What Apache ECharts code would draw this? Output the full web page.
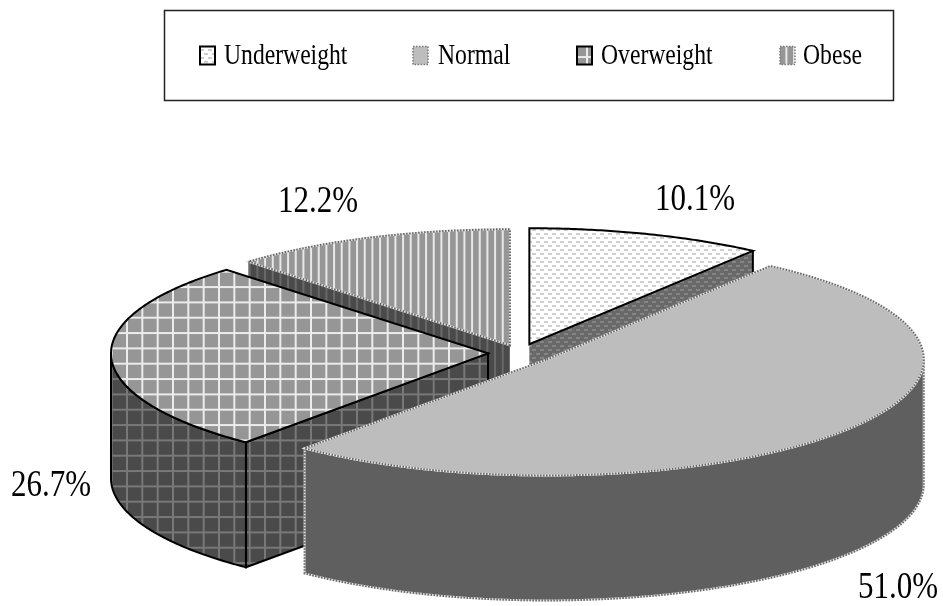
<!DOCTYPE html>
<html>
<head>
<meta charset="utf-8">
<style>html,body{margin:0;padding:0;background:#fff}#chart{width:943px;height:606px}</style>
<script src="https://cdn.jsdelivr.net/npm/echarts@6/dist/echarts.min.js"></script>
</head>
<body>
<div id="chart"></div>
<script>
// BMI category shares, in percent
const categories = ['Underweight', 'Normal', 'Overweight', 'Obese'];
const shareValues = [10.1, 51.0, 26.7, 12.2];

// Pie projection: centre, ellipse radii, extrusion depth
const PIE = { cx: 520, cy: 353, rx: 377, ry: 116, depth: 125 };
const explodeBy = [30, 34, 32, 27];
const paintOrder = [0, 3, 2, 1];           // back slices first
const labelAnchor = [[655, 200], [858, 588], [11, 486], [278, 202]];
const legendSwatchX = [200, 413, 577, 780];
const legendTextX = [224, 438, 601, 803];
const TEXT_SQUEEZE = 0.815;
const FONT = '"Liberation Serif","Times New Roman",serif';

function tile(w, h, bg, paint) {
  const c = document.createElement('canvas');
  c.width = w; c.height = h;
  const g = c.getContext('2d');
  g.fillStyle = bg; g.fillRect(0, 0, w, h);
  paint(g);
  return { image: c, repeat: 'repeat' };
}
function dots(bg, ink) {
  return tile(8, 8, bg, g => {
    g.fillStyle = ink;
    g.fillRect(0, 1, 4, 2); g.fillRect(4, 5, 4, 2);
  });
}
function grid(bg, ink) {
  return tile(46, 46, bg, g => {
    g.fillStyle = ink;
    [4.33, 19.67, 35].forEach(x => g.fillRect(x - 1, 0, 2, 46));
    [11.07, 26.4, 41.7].forEach(y => g.fillRect(0, y - 1, 46, 2));
  });
}
function stripes(bg, ink) {
  return tile(23, 4, bg, g => {
    g.fillStyle = ink;
    [4.4, 12.07, 19.73].forEach(x => g.fillRect(x - 1, 0, 2, 4));
  });
}

const looks = [
  { top: dots('#ffffff', '#cfcfcf'), wall: dots('#696969', '#858585'), line: 'solid', wallEdge: 'outer' },
  { top: '#bdbdbd', wall: '#5f5f5f', line: 'dotted', wallEdge: 'none' },
  { top: grid('#969696', '#ececec'), wall: grid('#4a4a4a', '#787878'), line: 'solid', wallEdge: 'full' },
  { top: stripes('#969696', '#e8e8e8'), wall: stripes('#4a4a4a', '#696969'), line: 'dotted', wallEdge: 'none' }
];

const total = shareValues.reduce((a, b) => a + b, 0);
const startAngle = i => shareValues.slice(0, i).reduce((a, b) => a + b, 0) / total * 360;

// Rim point of a slice at a clockwise angle from twelve o'clock
const rim = (c, deg, drop) => {
  const t = deg * Math.PI / 180;
  return [c[0] + PIE.rx * Math.sin(t), c[1] - PIE.ry * Math.cos(t) + (drop || 0)];
};
const arc = (c, a0, a1, drop) => {
  const n = Math.max(2, Math.ceil((a1 - a0) * 2));
  const out = [];
  for (let k = 0; k <= n; k++) out.push(rim(c, a0 + (a1 - a0) * k / n, drop));
  return out;
};

function outlined(points, look) {
  const shape = { points };
  if (look.line === 'solid') {
    return [{ type: 'polygon', shape, style: { fill: 'none', stroke: '#000', lineWidth: 2 } }];
  }
  return [
    { type: 'polygon', shape, style: { fill: 'none', stroke: '#e4e4e4', lineWidth: 2 } },
    { type: 'polygon', shape, style: { fill: 'none', stroke: '#666', lineWidth: 2, lineDash: [1.5, 1.5] } }
  ];
}

function sliceRenderer(i) {
  return function (params, api) {
    const value = api.value(0);
    const look = looks[i];
    const a0 = startAngle(i), a1 = a0 + value / total * 360;
    const mid = (a0 + a1) * Math.PI / 360;
    const c = [
      PIE.cx + explodeBy[i] * Math.sin(mid),
      PIE.cy - explodeBy[i] * Math.cos(mid) * PIE.ry / PIE.rx
    ];
    const d = PIE.depth;
    const below = c.map((v, k) => k ? v + d : v);
    const kids = [];

    // Radial cut faces that turn towards the viewer
    [[a0, Math.sin(a0 * Math.PI / 180) < -1e-6], [a1, Math.sin(a1 * Math.PI / 180) > 1e-6]].forEach(([deg, shows]) => {
      if (!shows) return;
      const pts = [c, rim(c, deg), rim(c, deg, d), below];
      kids.push({ type: 'polygon', shape: { points: pts }, style: { fill: look.wall } });
      if (look.wallEdge === 'full') {
        kids.push({ type: 'polygon', shape: { points: pts }, style: { fill: 'none', stroke: '#000', lineWidth: 2 } });
      } else if (look.wallEdge === 'outer') {
        kids.push({ type: 'polyline', shape: { points: [rim(c, deg), rim(c, deg, d)] }, style: { fill: 'none', stroke: '#000', lineWidth: 2 } });
      }
    });

    // Outer wall on the near half of the rim
    const f0 = Math.max(a0, 90), f1 = Math.min(a1, 270);
    if (f1 > f0) {
      const pts = arc(c, f0, f1, 0).concat(arc(c, f0, f1, d).reverse());
      kids.push({ type: 'polygon', shape: { points: pts }, style: { fill: look.wall } });
      kids.push(...outlined(pts, look));
    }

    // Top face and its percentage
    const top = [c].concat(arc(c, a0, a1, 0));
    kids.push({ type: 'polygon', shape: { points: top }, style: { fill: look.top } });
    kids.push(...outlined(top, look));
    kids.push({
      type: 'text', x: labelAnchor[i][0], y: labelAnchor[i][1], scaleX: TEXT_SQUEEZE,
      style: { text: value.toFixed(1) + '%', fontFamily: FONT, fontSize: 38, fill: '#000', align: 'left', verticalAlign: 'middle' }
    });
    return { type: 'group', children: kids };
  };
}

// Legend frame, swatches and names
const legendElements = [{
  type: 'rect', shape: { x: 164.5, y: 10.5, width: 729, height: 90 },
  style: { fill: '#fff', stroke: '#222', lineWidth: 1.5 }
}];
categories.forEach((name, i) => {
  const solid = looks[i].line === 'solid';
  legendElements.push({
    type: 'rect', shape: { x: legendSwatchX[i], y: 46.5, width: 15, height: 18 },
    style: { fill: looks[i].top, stroke: solid ? '#000' : '#777', lineWidth: solid ? 2 : 1.5, lineDash: solid ? null : [1.5, 1.5] }
  });
  legendElements.push({
    type: 'text', x: legendTextX[i], y: 56, scaleX: TEXT_SQUEEZE,
    style: { text: name, fontFamily: FONT, fontSize: 29, fill: '#000', align: 'left', verticalAlign: 'middle' }
  });
});

const chart = echarts.init(document.getElementById('chart'), null, { renderer: 'canvas' });
chart.setOption({
  animation: false,
  backgroundColor: '#fff',
  graphic: { elements: legendElements },
  series: categories.map((name, i) => ({
    type: 'custom',
    name,
    coordinateSystem: 'none',
    silent: true,
    z: 2 + paintOrder.indexOf(i),
    data: [[shareValues[i]]],
    renderItem: sliceRenderer(i)
  }))
});
</script>
</body>
</html>
